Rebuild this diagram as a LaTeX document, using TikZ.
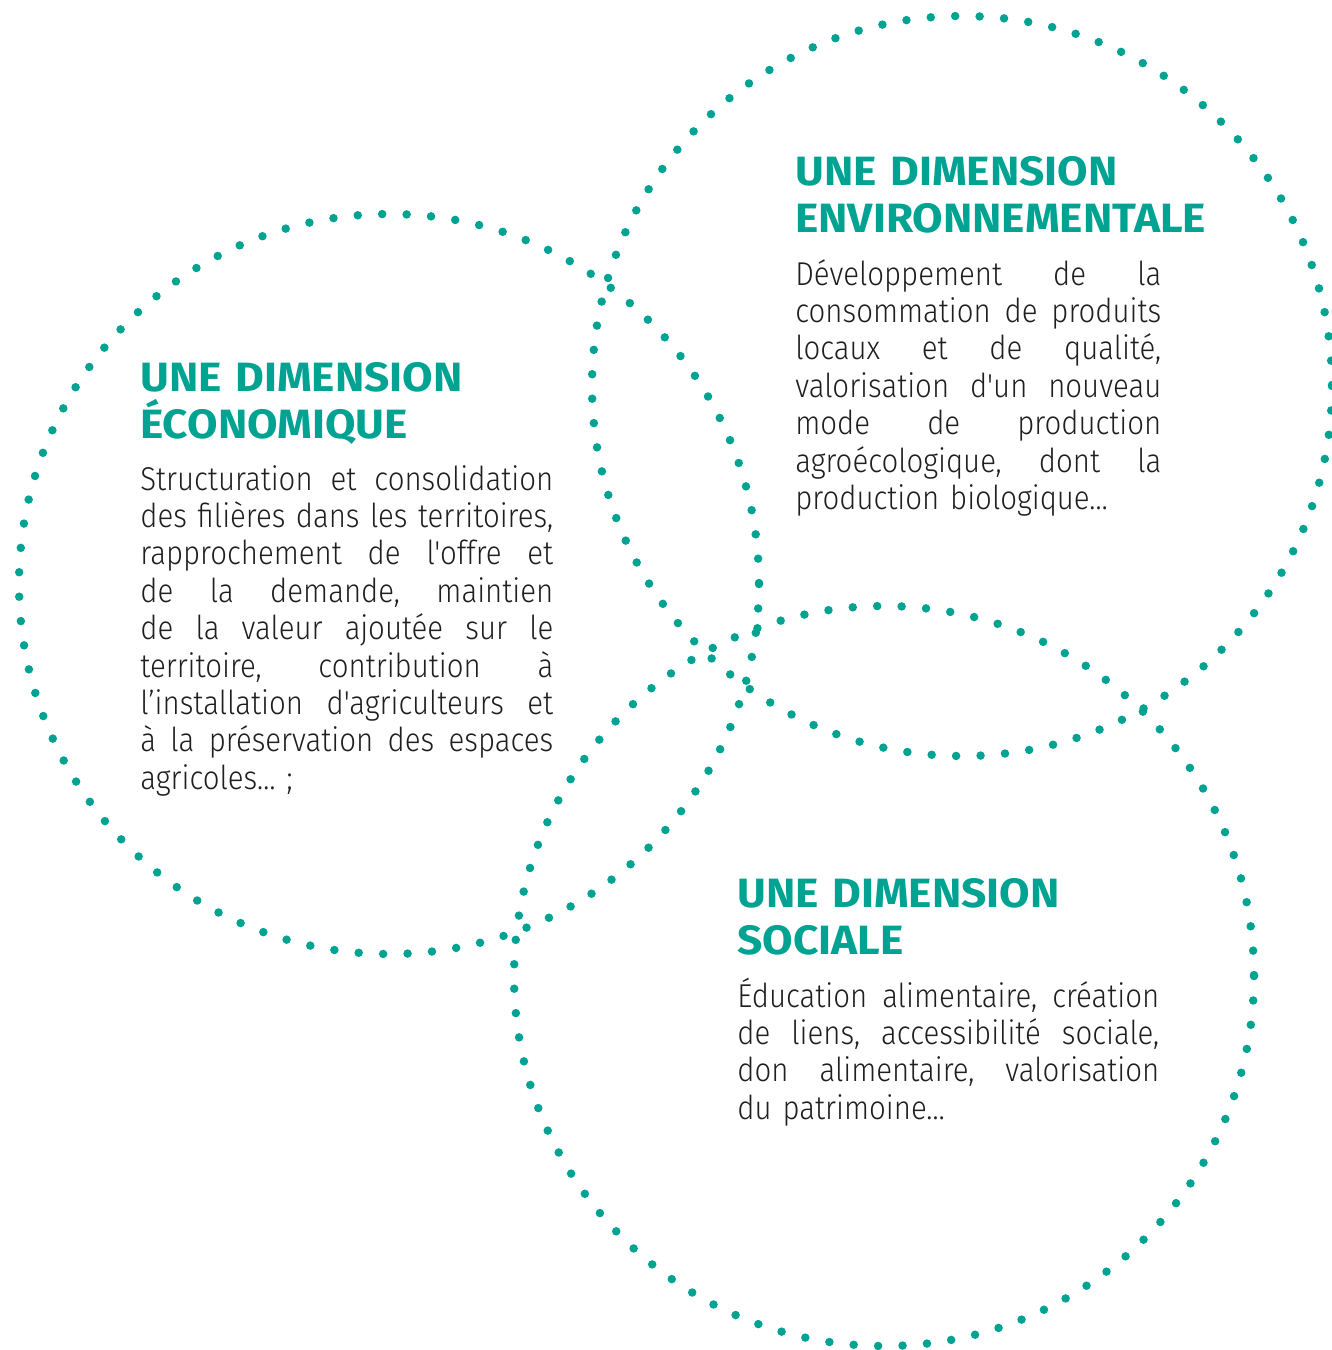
\documentclass[tikz,border=0pt]{standalone}
\usepackage{fontspec}
\newfontfamily\bodyfont{Fira Sans Light}[FakeStretch=0.89]
\newfontfamily\headfont{Fira Sans Bold}[FakeStretch=1.08]
\definecolor{agriteal}{RGB}{0,163,146}
\newlength{\blockwidth}
% one justified line of a text block
\newcommand{\jline}[1]{{\frenchspacing\spaceskip=0.24em plus 1fil minus 0.12em
  \makebox[\blockwidth][s]{#1}}\\}

\begin{document}
\begin{tikzpicture}[x=0.02cm,y=-0.02cm,
    dotring/.style={agriteal,line width=0.17cm,line cap=round,
      dash pattern=on 0pt off 0.4894cm},
    headline/.style={anchor=base west,inner sep=0pt,align=left,text width=10cm,
      text=agriteal,font=\headfont\fontsize{23.3}{27.3}\selectfont},
    bodytext/.style={anchor=base west,inner sep=0pt,align=left,text width=#1,
      execute at begin node={\setlength{\blockwidth}{#1}},
      text=black!88,font=\bodyfont\fontsize{18.8}{21.3}\selectfont}]
  \useasboundingbox (0,0) rectangle (1332,1350);

  % the three dotted rings
  \draw[dotring] (389,584) circle[radius=370];
  \draw[dotring] (962,386) circle[radius=370];
  \draw[dotring] (884,976) circle[radius=370];

  % economic
  \node[headline] (eco-head) at (140,391) {UNE DIMENSION\\ÉCONOMIQUE};
  \node[bodytext=8.26cm] (eco-body) at (140,490) {%
    \jline{Structuration et consolidation}
    \jline{des filières dans les territoires,}
    \jline{rapprochement de l'offre et}
    \jline{de la demande, maintien}
    \jline{de la valeur ajoutée sur le}
    \jline{territoire, contribution à}
    \jline{l’installation d'agriculteurs et}
    \jline{à la préservation des espaces}
    agricoles… ;};

  % environmental
  \node[headline] (env-head) at (795,185) {UNE DIMENSION\\ENVIRONNEMENTALE};
  \node[bodytext=7.32cm] (env-body) at (795,285) {%
    \jline{Développement de la}
    \jline{consommation de produits}
    \jline{locaux et de qualité,}
    \jline{valorisation d'un nouveau}
    \jline{mode de production}
    \jline{agroécologique, dont la}
    production biologique…};

  % social
  \node[headline] (soc-head) at (737,907) {UNE DIMENSION\\SOCIALE};
  \node[bodytext=8.44cm] (soc-body) at (737,1007) {%
    \jline{Éducation alimentaire, création}
    \jline{de liens, accessibilité sociale,}
    \jline{don alimentaire, valorisation}
    du patrimoine…};
\end{tikzpicture}
\end{document}
